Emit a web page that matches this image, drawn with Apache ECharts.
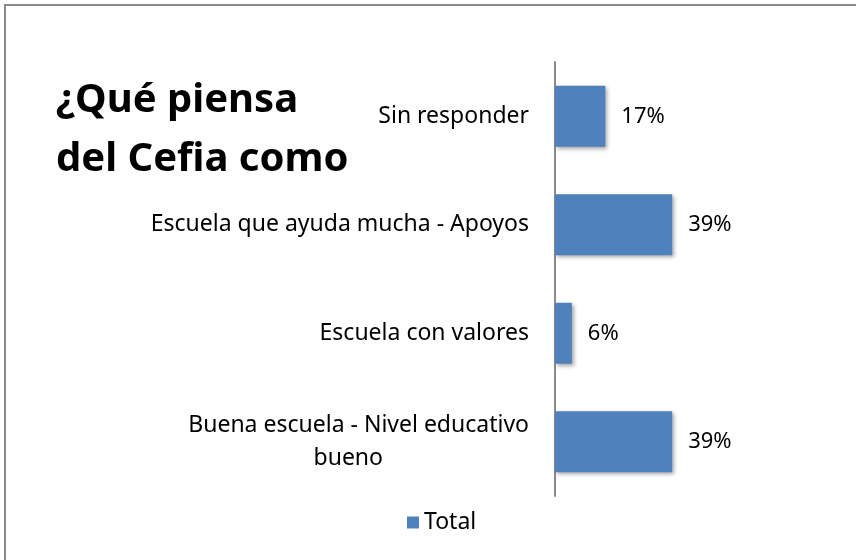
<!DOCTYPE html>
<html>
<head>
<meta charset="utf-8">
<script src="https://cdn.jsdelivr.net/npm/echarts@6/dist/echarts.min.js"></script>
<style>
  html, body { margin: 0; padding: 0; background: #fff; }
  #chart { width: 856px; height: 560px; }
</style>
</head>
<body>
<div id="chart"></div>
<script>
// data (shares of 18 answers)
const categories = [
  'Buena escuela - Nivel educativo bueno',
  'Escuela con valores',
  'Escuela que ayuda mucha - Apoyos',
  'Sin responder'
];
const totals = [38.9, 5.6, 38.9, 16.7];
const seriesName = 'Total';
const titleText = '¿Qué piensa\ndel Cefia como';

const font = '"Noto Sans", "Open Sans", sans-serif';
const chart = echarts.init(document.getElementById('chart'));

const option = {
  animation: false,
  textStyle: { fontFamily: font },
  title: {
    text: titleText,
    left: 51,
    top: 66,
    textStyle: {
      fontFamily: font,
      fontSize: 40,
      fontWeight: 'bold',
      lineHeight: 59,
      color: '#000'
    }
  },
  graphic: [
    {
      type: 'polyline',
      shape: { points: [[5, 560], [5, 5], [856, 5]] },
      style: { stroke: '#8a8a8a', lineWidth: 2, fill: null },
      silent: true
    }
  ],
  legend: {
    left: 402,
    top: 506,
    icon: 'rect',
    itemWidth: 12,
    itemHeight: 12,
    itemGap: 6,
    textStyle: { fontFamily: font, fontSize: 23, color: '#000' },
    data: [seriesName]
  },
  grid: {
    left: 555,
    top: 62,
    bottom: 64,
    right: 60,
    containLabel: false
  },
  xAxis: {
    type: 'value',
    min: 0,
    max: 80,
    show: false
  },
  yAxis: {
    type: 'category',
    data: categories,
    axisLine: { show: true, lineStyle: { color: '#8a8a8a', width: 2 } },
    axisTick: { show: false },
    axisLabel: {
      margin: 26,
      fontFamily: font,
      fontSize: 23,
      color: '#000',
      lineHeight: 33,
      formatter: function (v) {
        if (v.length > 34) {
          const i = v.lastIndexOf(' ');
          return v.slice(0, i) + '\n{b|' + v.slice(i + 1) + '}';
        }
        return v;
      },
      rich: {
        b: { fontFamily: font, fontSize: 23, lineHeight: 33, color: '#000', padding: [0, 146, 0, 0] }
      }
    }
  },
  series: [
    {
      name: seriesName,
      type: 'bar',
      data: totals,
      barWidth: 61,
      itemStyle: {
        color: '#4f81bd',
        shadowColor: 'rgba(0,0,0,0.35)',
        shadowBlur: 4,
        shadowOffsetX: 2,
        shadowOffsetY: 2
      },
      label: {
        show: true,
        position: 'right',
        distance: 16,
        fontFamily: font,
        fontSize: 22,
        color: '#000',
        formatter: function (p) { return Math.round(p.value) + '%'; }
      }
    }
  ]
};
chart.setOption(option);
</script>
</body>
</html>
